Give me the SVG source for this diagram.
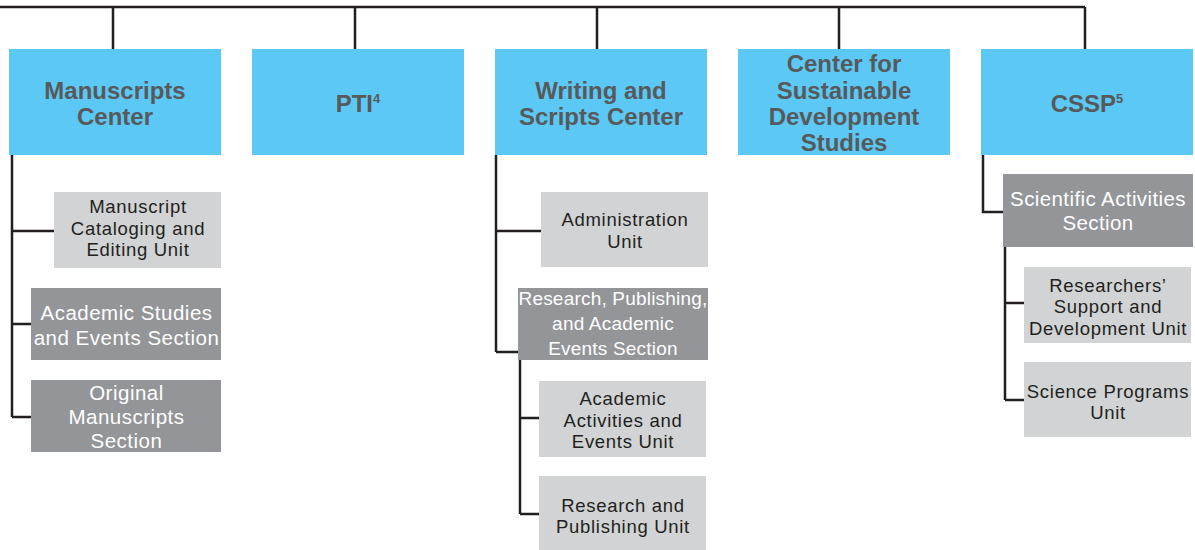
<svg xmlns="http://www.w3.org/2000/svg" width="1195" height="550" viewBox="0 0 1195 550">
<style>
.top{fill:#5bc8f5}
.unit{fill:#d1d3d4}
.sec{fill:#939598}
.ht{font-family:"Liberation Sans",Arial,sans-serif;font-weight:bold;font-size:24px;fill:#58595b;text-anchor:middle}
.ut{font-family:"Liberation Sans",Arial,sans-serif;font-size:18.5px;letter-spacing:0.7px;fill:#231f20;text-anchor:middle}
.st{font-family:"Liberation Sans",Arial,sans-serif;font-size:20.5px;letter-spacing:0.5px;fill:#ffffff;text-anchor:middle}
.ln{fill:none;stroke:#231f20;stroke-width:2.5}
</style>
<g id="connectors" class="ln">
<path d="M0 7H1085M113 7V49M355 7V49M597 7V49M839 7V49M1085 7V49"/>
<path d="M12 155V417M12 231H54M12 324H31M12 417H31"/>
<path d="M496 155V352M496 231H541M496 352H518"/>
<path d="M520 360V514M520 418H539M520 514H539"/>
<path d="M983 155V212H1003"/>
<path d="M1005 247V400M1005 303H1024M1005 400H1024"/>
</g>
<g id="manuscripts-center"><rect class="top" x="9" y="49" width="212" height="106"/><text class="ht"><tspan x="115" y="99">Manuscripts</tspan><tspan x="115" y="125">Center</tspan></text></g>
<g id="pti"><rect class="top" x="252" y="49" width="212" height="106"/><text class="ht" x="358" y="112">PTI<tspan dy="-9" font-size="13">4</tspan></text></g>
<g id="writing-scripts-center"><rect class="top" x="495" y="49" width="212" height="106"/><text class="ht"><tspan x="601" y="99">Writing and</tspan><tspan x="601" y="125">Scripts Center</tspan></text></g>
<g id="center-sustainable"><rect class="top" x="738" y="49" width="212" height="106"/><text class="ht"><tspan x="844" y="72">Center for</tspan><tspan x="844" y="99">Sustainable</tspan><tspan x="844" y="125">Development</tspan><tspan x="844" y="151">Studies</tspan></text></g>
<g id="cssp"><rect class="top" x="981" y="49" width="212" height="106"/><text class="ht" x="1087" y="112">CSSP<tspan dy="-9" font-size="13">5</tspan></text></g>

<g id="cataloging-unit"><rect class="unit" x="54" y="192" width="167" height="76"/><text class="ut"><tspan x="138" y="213">Manuscript</tspan><tspan x="138" y="235">Cataloging and</tspan><tspan x="138" y="256">Editing Unit</tspan></text></g>
<g id="academic-studies-section"><rect class="sec" x="31" y="288" width="190" height="72"/><text class="st"><tspan x="126.5" y="320">Academic Studies</tspan><tspan x="126.5" y="345">and Events Section</tspan></text></g>
<g id="original-manuscripts-section"><rect class="sec" x="31" y="380" width="190" height="72"/><text class="st"><tspan x="126.5" y="400">Original</tspan><tspan x="126.5" y="424">Manuscripts</tspan><tspan x="126.5" y="448">Section</tspan></text></g>

<g id="administration-unit"><rect class="unit" x="541" y="192" width="167" height="75"/><text class="ut"><tspan x="625" y="226">Administration</tspan><tspan x="625" y="248">Unit</tspan></text></g>
<g id="research-publishing-section"><rect class="sec" x="518" y="288" width="190" height="72"/><text class="st" style="font-size:19px;letter-spacing:0.2px"><tspan x="613" y="305">Research, Publishing,</tspan><tspan x="613" y="330">and Academic</tspan><tspan x="613" y="355">Events Section</tspan></text></g>
<g id="academic-activities-unit"><rect class="unit" x="539" y="381" width="167" height="76"/><text class="ut"><tspan x="623" y="405">Academic</tspan><tspan x="623" y="427">Activities and</tspan><tspan x="623" y="448">Events Unit</tspan></text></g>
<g id="research-publishing-unit"><rect class="unit" x="539" y="476" width="167" height="74"/><text class="ut"><tspan x="623" y="512">Research and</tspan><tspan x="623" y="533">Publishing Unit</tspan></text></g>

<g id="scientific-activities-section"><rect class="sec" x="1003" y="174" width="190" height="73"/><text class="st" style="letter-spacing:0.4px"><tspan x="1098" y="206">Scientific Activities</tspan><tspan x="1098" y="230">Section</tspan></text></g>
<g id="researchers-support-unit"><rect class="unit" x="1024" y="267" width="167" height="76"/><text class="ut"><tspan x="1108" y="292">Researchers’</tspan><tspan x="1108" y="313">Support and</tspan><tspan x="1108" y="335">Development Unit</tspan></text></g>
<g id="science-programs-unit"><rect class="unit" x="1024" y="362" width="167" height="75"/><text class="ut"><tspan x="1108" y="398">Science Programs</tspan><tspan x="1108" y="419">Unit</tspan></text></g>
</svg>
